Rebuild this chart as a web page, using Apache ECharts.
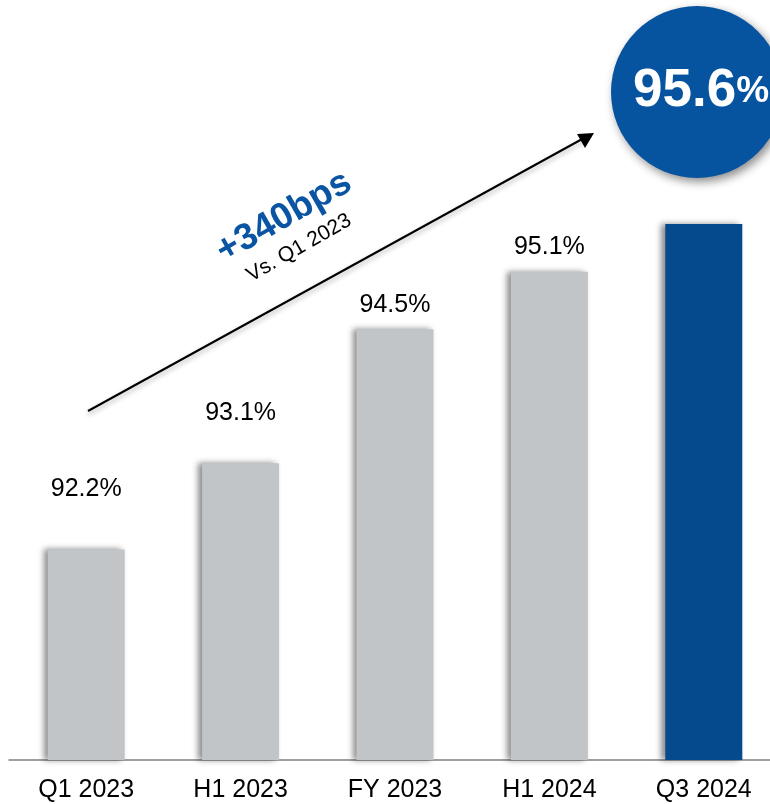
<!DOCTYPE html>
<html>
<head>
	<meta charset="UTF-8">
	<title>Ratio</title>
	<style>
		html, body { margin: 0; padding: 0; background: #fff; }
		#chart { width: 770px; height: 804px; }
	</style>
</head>
<body>
<div id="chart"></div>
<script src="https://cdn.jsdelivr.net/npm/echarts@6/dist/echarts.min.js"></script>
<script type="text/javascript">
var categories = ['Q1 2023', 'H1 2023', 'FY 2023', 'H1 2024', 'Q3 2024'];
var values = [92.2, 93.1, 94.5, 95.1, 95.6];
var labels = ['92.2%', '93.1%', '94.5%', '95.1%', ''];
var labelGap = [48, 38, 12, 12, 0];

var font = 'Liberation Sans, Arial, sans-serif';
var grey = '#c1c5c8';
var blue = '#054a8c';

var data = [];
for (var i = 0; i < values.length; i++) {
	data.push({
		value: values[i],
		itemStyle: { color: i == values.length - 1 ? blue : grey },
		label: { show: labels[i] != '', distance: labelGap[i] }
	});
}

var chart = echarts.init(document.getElementById('chart'));
var option = {
	animation: false,
	grid: { left: 9, right: -11, top: 90, bottom: 44, outerBoundsMode: 'none', containLabel: false },
	xAxis: {
		type: 'category',
		data: categories,
		axisLine: { lineStyle: { color: '#7f7f7f', width: 1.5 } },
		axisTick: { show: false },
		axisLabel: { color: '#000', fontSize: 25, fontFamily: font, margin: 18 }
	},
	yAxis: {
		type: 'value',
		min: 90,
		max: 97,
		show: false,
		splitLine: { show: false }
	},
	series: [{
		type: 'bar',
		data: data,
		barWidth: 77,
		itemStyle: {
			shadowColor: 'rgba(0,0,0,0.45)',
			shadowBlur: 6,
			shadowOffsetX: -4,
			shadowOffsetY: 0
		},
		label: {
			position: 'top',
			color: '#000',
			fontSize: 25,
			fontFamily: font,
			formatter: function (p) { return labels[p.dataIndex]; }
		}
	}],
	graphic: [
		{
			type: 'line',
			shape: { x1: 88, y1: 411, x2: 584, y2: 138 },
			style: { stroke: '#000', lineWidth: 2, shadowColor: 'rgba(0,0,0,0.3)', shadowBlur: 5, shadowOffsetY: 3 },
			z: 10
		},
		{
			type: 'polygon',
			shape: { points: [[594, 133], [577, 134], [585, 148]] },
			style: { fill: '#000' },
			z: 10
		},
		{
			type: 'text',
			x: 284, y: 217,
			rotation: 0.52,
			style: { text: '+340bps', fill: '#0a55a3', font: 'bold 37px ' + font, align: 'center', verticalAlign: 'middle' },
			z: 10
		},
		{
			type: 'text',
			x: 299, y: 248,
			rotation: 0.52,
			style: { text: 'Vs. Q1 2023', fill: '#000', font: '21px ' + font, align: 'center', verticalAlign: 'middle' },
			z: 10
		},
		{
			type: 'circle',
			shape: { cx: 697, cy: 92, r: 86 },
			style: { fill: '#0653a0', shadowColor: 'rgba(0,0,0,0.45)', shadowBlur: 10, shadowOffsetX: 3, shadowOffsetY: 4 },
			z: 10
		},
		{
			type: 'text',
			x: 633, y: 118,
			style: {
				text: '{a|95.6}{b|%}',
				fill: '#fff',
				align: 'left',
				verticalAlign: 'bottom',
				rich: {
					a: { font: 'bold 53px ' + font, fill: '#fff' },
					b: { font: 'bold 37px ' + font, fill: '#fff' }
				}
			},
			z: 11
		}
	]
};
chart.setOption(option);
</script>
</body>
</html>
